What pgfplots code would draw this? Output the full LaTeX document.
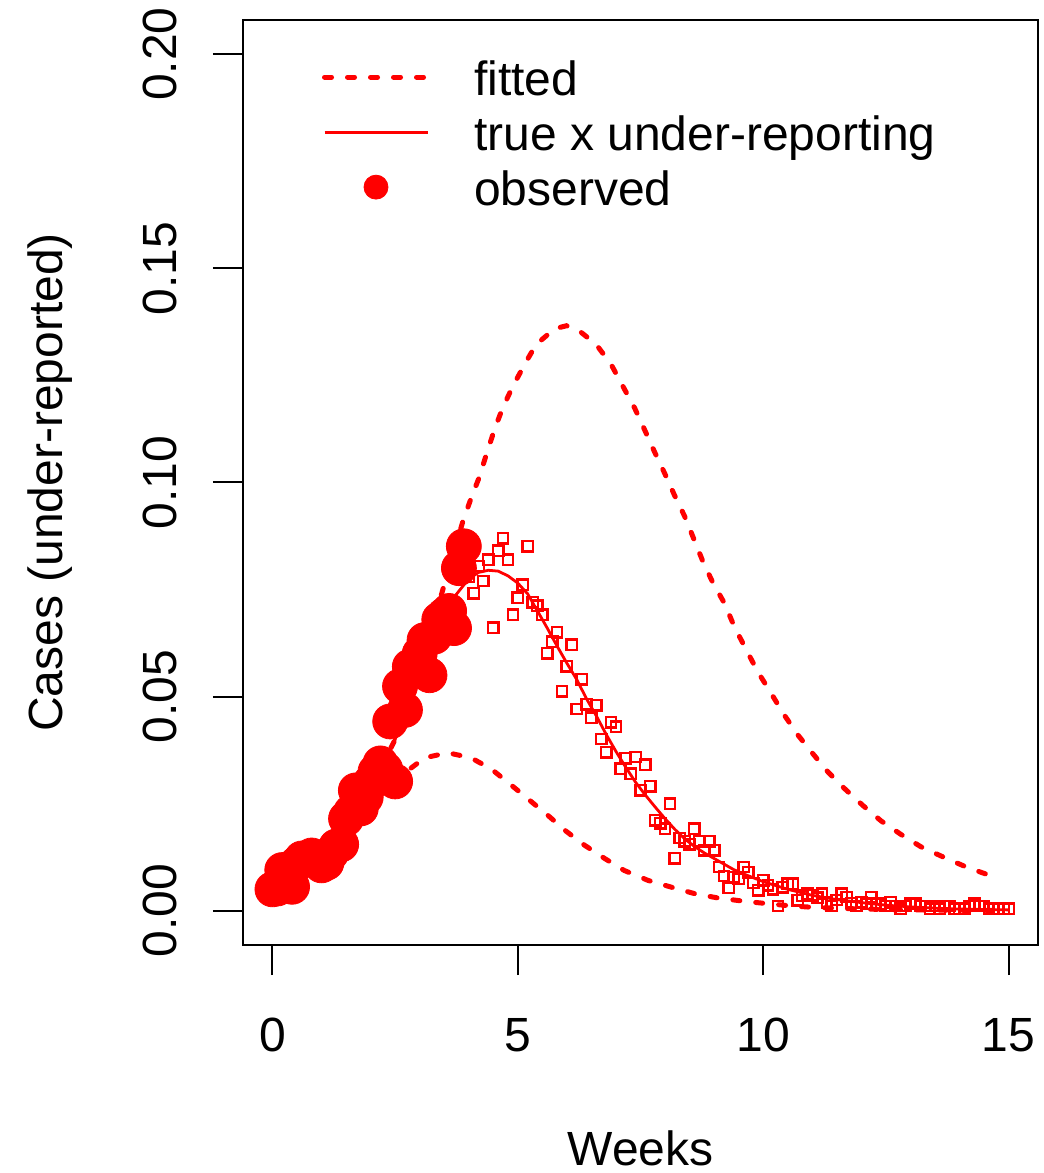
\documentclass[border=0pt]{standalone}
\usepackage{fontspec}
\setmainfont{Liberation Sans}
\usepackage{pgfplots}
\usepackage{pgfplotstable}
\pgfplotsset{compat=1.18}

% observed (under-reported) weekly cases
\pgfplotstableread{
x y
0.0 0.0050
0.1 0.0052
0.2 0.0095
0.3 0.0085
0.4 0.0056
0.5 0.0110
0.6 0.0122
0.7 0.0120
0.8 0.0129
0.9 0.0125
1.0 0.0106
1.1 0.0112
1.2 0.0135
1.3 0.0150
1.4 0.0155
1.5 0.0215
1.6 0.0230
1.7 0.0281
1.8 0.0239
1.9 0.0265
2.0 0.0300
2.1 0.0325
2.2 0.0344
2.3 0.0330
2.4 0.0442
2.5 0.0302
2.6 0.0524
2.7 0.0469
2.8 0.0570
2.9 0.0560
3.0 0.0600
3.1 0.0632
3.2 0.0550
3.3 0.0640
3.4 0.0680
3.5 0.0690
3.6 0.0700
3.7 0.0660
3.8 0.0800
3.9 0.0851
}\observed

% later, not yet observed cases
\pgfplotstableread{
x y
4.0 0.0780
4.1 0.0741
4.2 0.0805
4.3 0.0770
4.4 0.0820
4.5 0.0661
4.6 0.0841
4.7 0.0870
4.8 0.0820
4.9 0.0691
5.0 0.0731
5.1 0.0761
5.2 0.0851
5.3 0.0720
5.4 0.0712
5.5 0.0691
5.6 0.0601
5.7 0.0628
5.8 0.0650
5.9 0.0512
6.0 0.0571
6.1 0.0621
6.2 0.0471
6.3 0.0540
6.4 0.0482
6.5 0.0451
6.6 0.0480
6.7 0.0401
6.8 0.0370
6.9 0.0440
7.0 0.0430
7.1 0.0332
7.2 0.0356
7.3 0.0320
7.4 0.0359
7.5 0.0281
7.6 0.0341
7.7 0.0291
7.8 0.0211
7.9 0.0204
8.0 0.0192
8.1 0.0250
8.2 0.0122
8.3 0.0170
8.4 0.0162
8.5 0.0155
8.6 0.0192
8.7 0.0162
8.8 0.0141
8.9 0.0162
9.0 0.0141
9.1 0.0102
9.2 0.0081
9.3 0.0053
9.4 0.0079
9.5 0.0075
9.6 0.0102
9.7 0.0090
9.8 0.0065
9.9 0.0048
10.0 0.0071
10.1 0.0059
10.2 0.0050
10.3 0.0011
10.4 0.0055
10.5 0.0063
10.6 0.0063
10.7 0.0024
10.8 0.0035
10.9 0.0040
11.0 0.0036
11.1 0.0030
11.2 0.0040
11.3 0.0020
11.4 0.0011
11.5 0.0025
11.6 0.0040
11.7 0.0032
11.8 0.0018
11.9 0.0011
12.0 0.0020
12.1 0.0016
12.2 0.0032
12.3 0.0016
12.4 0.0016
12.5 0.0011
12.6 0.0020
12.7 0.0011
12.8 0.0005
12.9 0.0011
13.0 0.0016
13.1 0.0016
13.2 0.0011
13.3 0.0011
13.4 0.0005
13.5 0.0011
13.6 0.0005
13.7 0.0011
13.8 0.0011
13.9 0.0005
14.0 0.0005
14.1 0.0005
14.2 0.0011
14.3 0.0016
14.4 0.0011
14.5 0.0011
14.6 0.0005
14.7 0.0005
14.8 0.0005
14.9 0.0005
15.0 0.0005
}\unobserved

% true incidence times the under-reporting fraction
\pgfplotstableread{
x y
0.0 0.0050
0.5 0.0085
1.0 0.0125
1.5 0.0190
2.0 0.0280
2.5 0.0400
3.0 0.0550
3.5 0.0685
3.7 0.0732
4.0 0.0775
4.2 0.0790
4.4 0.0795
4.6 0.0793
4.8 0.0782
5.0 0.0765
5.2 0.0740
5.4 0.0700
5.6 0.0660
5.8 0.0618
6.0 0.0578
6.2 0.0540
6.4 0.0495
6.6 0.0455
6.8 0.0412
7.0 0.0372
7.2 0.0335
7.4 0.0300
7.6 0.0270
7.8 0.0242
8.0 0.0215
8.2 0.0190
8.4 0.0168
8.6 0.0150
8.8 0.0135
9.0 0.0122
9.2 0.0109
9.4 0.0096
9.6 0.0086
9.8 0.0077
10.0 0.0068
10.5 0.0050
11.0 0.0036
11.5 0.0026
12.0 0.0019
12.5 0.0013
13.0 0.0009
13.5 0.0006
14.0 0.0004
14.5 0.0003
15.0 0.0002
}\truecurve

% fitted curve, upper fit
\pgfplotstableread{
x y
0.00 0.0065
0.50 0.0095
1.00 0.0140
1.50 0.0200
2.00 0.0285
2.50 0.0400
3.00 0.0555
3.47 0.0749
3.88 0.0909
4.05 0.0964
4.22 0.1014
4.36 0.1066
4.52 0.1122
4.69 0.1174
4.90 0.1225
5.14 0.1276
5.37 0.1322
5.75 0.1359
5.99 0.1366
6.22 0.1357
6.60 0.1322
6.90 0.1276
7.14 0.1225
7.38 0.1174
7.58 0.1124
7.78 0.1073
7.99 0.1022
8.19 0.0971
8.40 0.0921
8.58 0.0870
8.77 0.0816
8.97 0.0767
9.21 0.0718
9.41 0.0664
9.62 0.0617
9.89 0.0558
10.16 0.0508
10.43 0.0457
10.71 0.0410
11.01 0.0367
11.32 0.0324
11.66 0.0285
12.03 0.0246
12.40 0.0210
12.81 0.0178
13.22 0.0149
13.66 0.0126
14.14 0.0102
14.58 0.0084
14.75 0.0079
}\fitup

% fitted curve, lower fit
\pgfplotstableread{
x y
0.00 0.0057
0.50 0.0085
1.00 0.0125
1.50 0.0180
2.00 0.0245
2.50 0.0305
3.10 0.0357
3.57 0.0369
4.05 0.0357
4.47 0.0330
4.86 0.0294
5.24 0.0258
5.61 0.0223
5.98 0.0186
6.36 0.0153
6.77 0.0122
7.17 0.0094
7.65 0.0071
8.13 0.0055
8.60 0.0040
9.07 0.0030
9.55 0.0023
9.96 0.0018
10.50 0.0012
11.00 0.0008
12.00 0.0004
13.00 0.0002
14.00 0.0001
14.75 0.0001
}\fitlow

\begin{document}
\fontsize{24}{28}\selectfont
\begin{tikzpicture}
\useasboundingbox (-121.5pt,-114pt) rectangle (400.5pt,472.5pt);
\begin{axis}[
  at={(0,0)}, anchor=south west,
  scale only axis, width=397.5pt, height=462.5pt,
  xmin=-0.6, xmax=15.6, ymin=-0.008, ymax=0.208,
  axis line style={line width=1pt},
  every tick/.style={black, line width=1pt},
  tick align=outside, major tick length=15pt,
  xtick={0,5,10,15}, ytick={0,0.05,0.1,0.15,0.2},
  xtick pos=bottom, ytick pos=left,
  xticklabel={\pgfmathprintnumber[assume math mode=true]{\tick}},
  yticklabel={\pgfmathprintnumber[fixed,fixed zerofill,precision=2,assume math mode=true]{\tick}},
  tick label style={font=\fontsize{24}{28}\selectfont},
  xticklabel style={anchor=center, yshift=-30pt},
  yticklabel style={rotate=90, anchor=center, yshift=26.5pt},
  xlabel={Weeks}, ylabel={Cases (under-reported)},
  label style={font=\fontsize{24}{28}\selectfont},
  xlabel style={at={(axis description cs:0.5,-0.2195)}, anchor=center},
  ylabel style={at={(axis description cs:-0.2428,0.5)}, anchor=center, rotate=0},
  legend style={draw=none, fill=none, at={(axis description cs:0.0994,0.9578)},
    anchor=north west, inner sep=0pt, outer sep=0pt, row sep=0pt, column sep=22pt,
    nodes={inner sep=0pt, text height=18pt, text depth=9.5pt,
      font=\fontsize{24}{28}\selectfont}},
  legend cell align=left,
  legend image code/.code={\draw[#1] (0pt,4.7pt) -- (51.5pt,4.7pt);},
  fitted/.style={red, line width=2.5pt, dash pattern=on 3.5pt off 8pt, line cap=round},
]
\addplot[fitted] table {\fitup};
\addlegendentry{fitted}
\addplot[fitted, forget plot] table {\fitlow};
\addplot[red, line width=1.4pt] table {\truecurve};
\addlegendentry{true x under-reporting}
\addplot[only marks, mark=square, mark size=2.6pt, red, line width=1.2pt, forget plot] table {\unobserved};
\addplot[only marks, mark=*, mark size=8.75pt, red, mark options={draw=none, fill=red},
  legend image code/.code={\fill[red] (25.75pt,4.7pt) circle (6pt);}] table {\observed};
\addlegendentry{observed}
\end{axis}
\end{tikzpicture}
\end{document}
